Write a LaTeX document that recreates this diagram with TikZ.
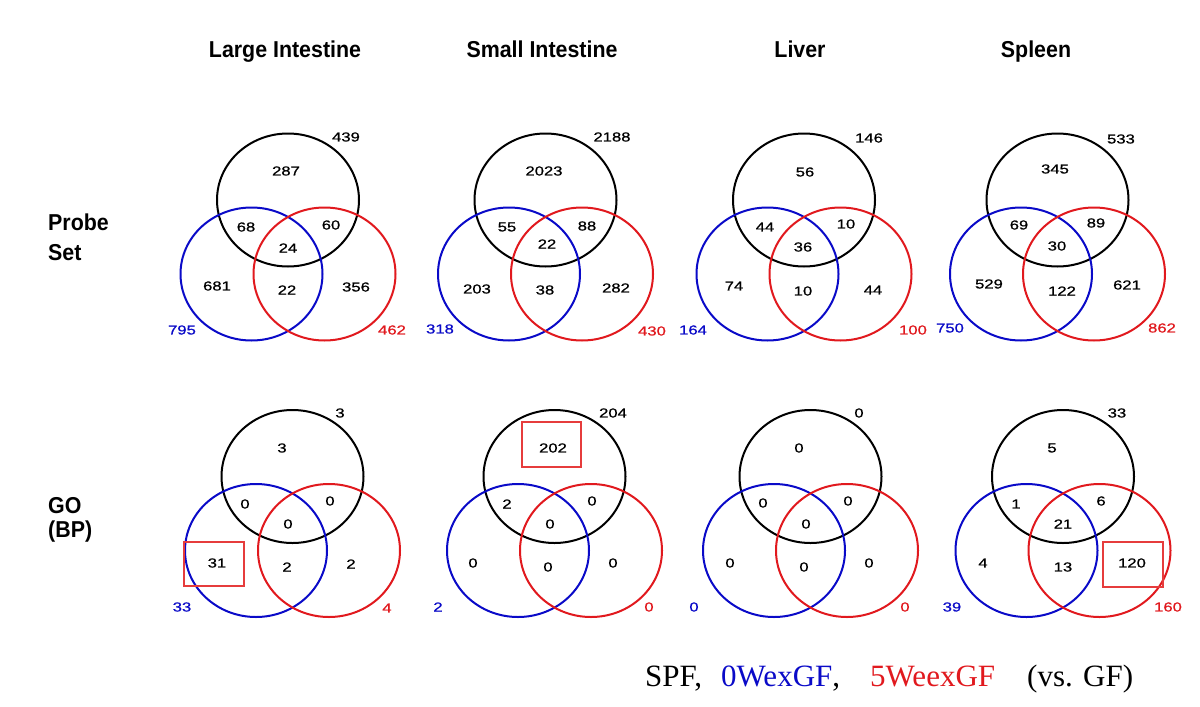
\documentclass[tikz,border=0pt]{standalone}
\usepackage{fontspec}
\setmainfont{Liberation Serif}
\newfontfamily\numfont[FakeStretch=1.28,FakeBold=0.8]{Liberation Sans}
\newfontfamily\headfont[FakeStretch=0.93]{Liberation Sans}
\usetikzlibrary{shapes.geometric}
\definecolor{vblue}{RGB}{10,10,200}
\definecolor{vred}{RGB}{225,25,30}
\definecolor{boxred}{RGB}{230,60,60}
\tikzset{
  ring/.style={ellipse, line width=2pt, minimum width=142pt, minimum height=133pt, inner sep=0pt},
  num/.style={font=\numfont\fontsize{13}{14}\selectfont, inner sep=0pt},
  bnum/.style={num, text=vblue},
  rnum/.style={num, text=vred},
  head/.style={font=\headfont\bfseries\fontsize{23}{26}\selectfont, inner sep=0pt, anchor=base},
  side/.style={font=\headfont\bfseries\fontsize{23}{26}\selectfont, inner sep=0pt, anchor=base west},
  hibox/.style={draw=boxred, line width=1.2pt, inner sep=0pt},
  legend/.style={font=\fontsize{31}{34}\selectfont, inner sep=0pt, anchor=base west}
}
\newcommand\vennset[3]{%
  \node[ring, draw=black] (#1k) at (#2,#3) {};
  \node[ring, draw=vblue] (#1b) at ({#2-36.5},{#3+74}) {};
  \node[ring, draw=vred] (#1r) at ({#2+36.5},{#3+74}) {};
}
\begin{document}
\begin{tikzpicture}[x=1pt,y=-1pt]
\useasboundingbox (0,0) rectangle (1200,707);
\fill[white] (0,0) rectangle (1200,707);

% titles
\node[head] (t1) at (285,57) {Large Intestine};
\node[head] (t2) at (542,57) {Small Intestine};
\node[head] (t3) at (800,57) {Liver};
\node[head] (t4) at (1036,57) {Spleen};
\node[side] (s1) at (48,230) {Probe};
\node[side] (s2) at (48,260) {Set};
\node[side] (s3) at (48,513) {GO};
\node[side] (s4) at (48,537) {(BP)};

% circles
\vennset{pa}{288}{200}
\vennset{pb}{545.5}{200}
\vennset{pc}{804}{200}
\vennset{pd}{1057.5}{200}
\vennset{ga}{292.5}{476.5}
\vennset{gb}{554.5}{476.5}
\vennset{gc}{810.5}{476.5}
\vennset{gd}{1063}{476.5}

% row 1, col 1
\node[num] (pa1) at (346,137) {439};
\node[num] (pa2) at (286,171) {287};
\node[num] (pa3) at (246,227) {68};
\node[num] (pa4) at (331,225) {60};
\node[num] (pa5) at (288,248) {24};
\node[num] (pa6) at (217,286) {681};
\node[num] (pa7) at (287,290) {22};
\node[num] (pa8) at (356,287) {356};
\node[bnum] (pa9) at (182,330) {795};
\node[rnum] (pa10) at (392,330) {462};
% row 1, col 2
\node[num] (pb1) at (612,137) {2188};
\node[num] (pb2) at (544,171) {2023};
\node[num] (pb3) at (507,227) {55};
\node[num] (pb4) at (587,226) {88};
\node[num] (pb5) at (547,244) {22};
\node[num] (pb6) at (477,289) {203};
\node[num] (pb7) at (545,290) {38};
\node[num] (pb8) at (616,288) {282};
\node[bnum] (pb9) at (440,329) {318};
\node[rnum] (pb10) at (652,331) {430};
% row 1, col 3
\node[num] (pc1) at (869,138) {146};
\node[num] (pc2) at (805,172) {56};
\node[num] (pc3) at (765,227) {44};
\node[num] (pc4) at (846,224) {10};
\node[num] (pc5) at (803,247) {36};
\node[num] (pc6) at (734,286) {74};
\node[num] (pc7) at (803,291) {10};
\node[num] (pc8) at (873,290) {44};
\node[bnum] (pc9) at (693,330) {164};
\node[rnum] (pc10) at (913,330) {100};
% row 1, col 4
\node[num] (pd1) at (1121,139) {533};
\node[num] (pd2) at (1055,169) {345};
\node[num] (pd3) at (1019,225) {69};
\node[num] (pd4) at (1096,223) {89};
\node[num] (pd5) at (1057,246) {30};
\node[num] (pd6) at (989,284) {529};
\node[num] (pd7) at (1062,291) {122};
\node[num] (pd8) at (1127,285) {621};
\node[bnum] (pd9) at (950,328) {750};
\node[rnum] (pd10) at (1162,328) {862};

% row 2, col 1
\node[num] (ga1) at (340,413) {3};
\node[num] (ga2) at (282,448) {3};
\node[num] (ga3) at (245,504) {0};
\node[num] (ga4) at (330,501) {0};
\node[num] (ga5) at (288,524) {0};
\node[num] (ga6) at (217,563) {31};
\node[num] (ga7) at (287,567) {2};
\node[num] (ga8) at (351,564) {2};
\node[bnum] (ga9) at (182,607) {33};
\node[rnum] (ga10) at (387,608) {4};
\node[hibox, minimum width=60pt, minimum height=44pt] (gabox) at (214,564) {};
% row 2, col 2
\node[num] (gb1) at (613,413) {204};
\node[num] (gb2) at (553,448) {202};
\node[num] (gb3) at (507,504) {2};
\node[num] (gb4) at (592,501) {0};
\node[num] (gb5) at (550,524) {0};
\node[num] (gb6) at (473,563) {0};
\node[num] (gb7) at (548,567) {0};
\node[num] (gb8) at (613,563) {0};
\node[bnum] (gb9) at (438,607) {2};
\node[rnum] (gb10) at (649,607) {0};
\node[hibox, minimum width=59pt, minimum height=45pt] (gbbox) at (551.5,444.5) {};
% row 2, col 3
\node[num] (gc1) at (859,413) {0};
\node[num] (gc2) at (799,448) {0};
\node[num] (gc3) at (763,503) {0};
\node[num] (gc4) at (848,501) {0};
\node[num] (gc5) at (806,524) {0};
\node[num] (gc6) at (730,563) {0};
\node[num] (gc7) at (804,567) {0};
\node[num] (gc8) at (869,563) {0};
\node[bnum] (gc9) at (694,607) {0};
\node[rnum] (gc10) at (905,607) {0};
% row 2, col 4
\node[num] (gd1) at (1117,413) {33};
\node[num] (gd2) at (1052,448) {5};
\node[num] (gd3) at (1016,504) {1};
\node[num] (gd4) at (1101,501) {6};
\node[num] (gd5) at (1063,524) {21};
\node[num] (gd6) at (983,563) {4};
\node[num] (gd7) at (1063,567) {13};
\node[num] (gd8) at (1132,563) {120};
\node[bnum] (gd9) at (952,607) {39};
\node[rnum] (gd10) at (1168,607) {160};
\node[hibox, minimum width=60pt, minimum height=45pt] (gdbox) at (1133,564.5) {};

% legend
\node[legend] (l1) at (645,686) {SPF,};
\node[legend, text=vblue] (l2) at (721,686) {0WexGF\textcolor{black}{,}};
\node[legend, text=vred] (l3) at (870,686) {5WeexGF};
\node[legend] (l4) at (1027,686) {(vs. GF)};
\end{tikzpicture}
\end{document}
